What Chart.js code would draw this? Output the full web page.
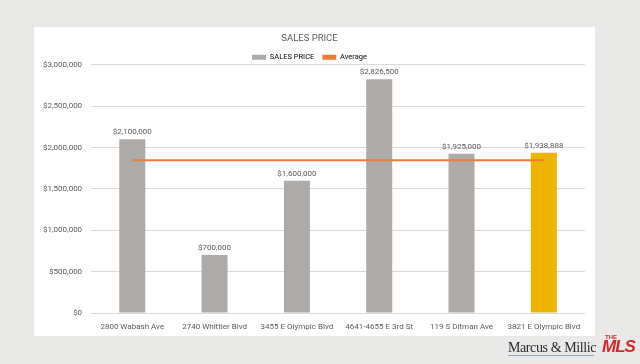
<!DOCTYPE html>
<html>
<head>
<meta charset="utf-8">
<script src="https://cdn.jsdelivr.net/npm/chart.js@4/dist/chart.umd.min.js"></script>
<style>
  html, body { margin: 0; padding: 0; background: #e9eae8; width: 640px; height: 364px; overflow: hidden; }
  #card { position: absolute; left: 34px; top: 27px; width: 561px; height: 309px; background: #fff; }
  #logo { position: absolute; left: 508px; top: 333px; width: 132px; height: 31px; }
  #logo .name { position: absolute; left: 0; top: 7px; font-family: "Liberation Serif", serif; font-size: 14px; color: #2b2b2b; white-space: nowrap; letter-spacing: -0.4px; }
  #logo .mls { position: absolute; left: 94px; top: 4px; font-family: "Liberation Sans", sans-serif; font-weight: bold; font-style: italic; font-size: 17px; color: #d7262d; letter-spacing: -1px; }
  #logo .the { position: absolute; left: 97px; top: 1px; font-family: "Liberation Sans", sans-serif; font-weight: bold; font-size: 6px; color: #d7262d; }
  #logo .rule { position: absolute; left: 0; top: 22px; width: 86px; height: 1px; background: #8aa3c7; }
</style>
</head>
<body>
<div id="card"><canvas id="chart" width="561" height="309"></canvas></div>
<div id="logo"><span class="name">Marcus &amp; Millic</span><span class="the">THE</span><span class="mls">MLS</span><div class="rule"></div></div>
<script>
document.addEventListener('DOMContentLoaded', function () {
  var categories = ['2800 Wabash Ave', '2740 Whittier Blvd', '3455 E Olympic Blvd', '4641-4655 E 3rd St', '119 S Ditman Ave', '3821 E Olympic Blvd'];
  var salesPrice = [2100000, 700000, 1600000, 2826500, 1925000, 1938888];
  var average = [1848398, 1848398, 1848398, 1848398, 1848398, 1848398];
  var barColors = ['#aeaaa8', '#aeaaa8', '#aeaaa8', '#aeaaa8', '#aeaaa8', '#eeb500'];

  var money = function (v) { return '$' + Number(v).toLocaleString('en-US'); };
  var textColor = '#595959';

  // draws the value above each bar
  var barLabels = {
    id: 'barLabels',
    afterDatasetsDraw: function (chart) {
      var ctx = chart.ctx;
      var meta = chart.getDatasetMeta(1);
      ctx.save();
      ctx.font = '8px Roboto, sans-serif';
      ctx.fillStyle = textColor;
      ctx.textAlign = 'center';
      ctx.textBaseline = 'bottom';
      meta.data.forEach(function (bar, i) {
        ctx.fillText(money(salesPrice[i]), bar.x, bar.y - 3);
      });
      ctx.restore();
    }
  };

  // legend sits close to the plot, trim its reserved height
  var legendFit = {
    id: 'legendFit',
    beforeInit: function (chart) {
      var fit = chart.legend.fit;
      chart.legend.fit = function () {
        fit.bind(chart.legend)();
        this.height -= 6;
      };
    }
  };

  new Chart(document.getElementById('chart'), {
    data: {
      labels: categories,
      datasets: [
        {
          type: 'line',
          label: 'Average',
          data: average,
          borderColor: '#ed7d31',
          backgroundColor: '#ed7d31',
          borderWidth: 2,
          pointRadius: 0,
          order: 0
        },
        {
          type: 'bar',
          label: 'SALES PRICE',
          data: salesPrice,
          backgroundColor: barColors,
          categoryPercentage: 1,
          barPercentage: 0.316,
          order: 1
        }
      ]
    },
    options: {
      responsive: false,
      animation: false,
      layout: { padding: { left: 0, right: 10, top: 0, bottom: 0 } },
      plugins: {
        title: {
          display: true,
          text: 'SALES PRICE',
          color: textColor,
          font: { family: 'Roboto', size: 9.5, weight: 'normal' },
          padding: { top: 6, bottom: 1 }
        },
        legend: {
          display: true,
          position: 'top',
          labels: {
            color: textColor,
            font: { family: 'Roboto', size: 7.5 },
            boxWidth: 14,
            boxHeight: 5,
            padding: 8,
            generateLabels: function () {
              return [
                { text: 'SALES PRICE', fillStyle: '#aeaaa8', strokeStyle: '#aeaaa8', lineWidth: 0, datasetIndex: 1 },
                { text: 'Average', fillStyle: '#ed7d31', strokeStyle: '#ed7d31', lineWidth: 0, datasetIndex: 0 }
              ];
            }
          }
        },
        tooltip: { enabled: false }
      },
      scales: {
        x: {
          grid: { display: false },
          border: { display: false },
          ticks: { color: textColor, font: { family: 'Roboto', size: 8 }, maxRotation: 0, autoSkip: false, padding: 1 },
          afterFit: function (scale) { scale.height = 23; }
        },
        y: {
          min: 0,
          max: 3000000,
          grid: { color: '#d9d9d9', drawTicks: false },
          border: { display: false },
          ticks: {
            stepSize: 500000,
            color: textColor,
            font: { family: 'Roboto', size: 8 },
            padding: 9,
            callback: function (v) { return money(v); }
          }
        }
      }
    },
    plugins: [barLabels, legendFit]
  });
});
</script>
</body>
</html>
